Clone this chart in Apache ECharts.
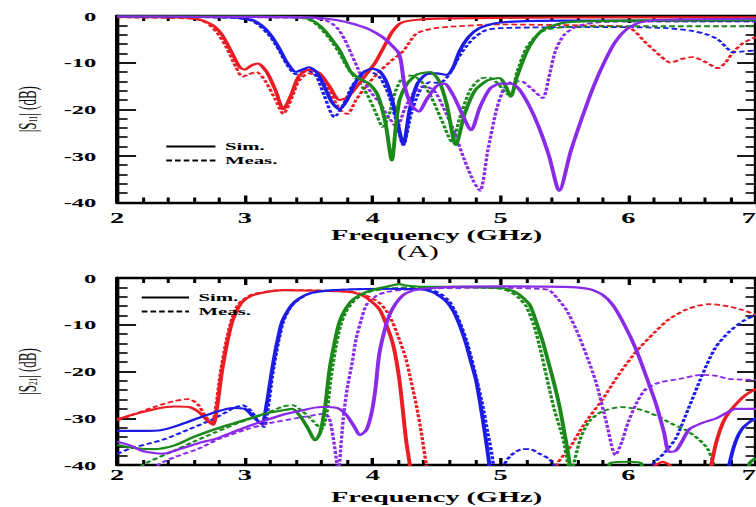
<!DOCTYPE html>
<html>
<head>
<meta charset="utf-8">
<script src="https://cdn.jsdelivr.net/npm/echarts@6/dist/echarts.min.js"></script>
<style>
html,body{margin:0;padding:0;background:#fff;overflow:hidden;width:756px;height:507px;}
#c{width:400px;height:507px;transform:scaleX(1.89);transform-origin:0 0;}
</style>
</head>
<body>
<div id="c"></div>
<script>
// ---- axis ticks ----
const xTicks = [2, 3, 4, 5, 6, 7];          // Frequency (GHz)
const yTicks = [-40, -30, -20, -10, 0];     // dB

// ---- (A) |S11| (dB) : [GHz, dB] ----
const s11RedSim = [[2,-0.2],[2.5,-0.3],[2.65,-0.8],[2.75,-2],[2.82,-4],[2.9,-8],[2.96,-11],[3.0,-11.5],[3.05,-10.6],[3.1,-10.2],[3.17,-12],[3.24,-16],[3.3,-20],[3.36,-17],[3.42,-13],[3.5,-11.5],[3.58,-12.2],[3.66,-15],[3.74,-18],[3.8,-17.5],[3.88,-15],[3.95,-12.5],[4.02,-10],[4.1,-6],[4.15,-3.5],[4.22,-1.5],[4.35,-0.8],[4.6,-0.5],[5,-0.4],[6,-0.3],[7,-0.3]];
const s11RedMeas = [[2,-0.3],[2.6,-0.6],[2.7,-1.5],[2.78,-3.5],[2.86,-7],[2.93,-11],[2.98,-13],[3.03,-12.5],[3.09,-12],[3.16,-14],[3.24,-18],[3.3,-21],[3.36,-18],[3.42,-14],[3.5,-12.3],[3.58,-13],[3.66,-16],[3.74,-20],[3.8,-21],[3.87,-18],[3.95,-15],[4.05,-12],[4.15,-9.5],[4.24,-7.5],[4.34,-3.8],[4.45,-2.8],[4.6,-2.3],[5.0,-1.8],[5.3,-1.9],[5.8,-2.1],[6.0,-2.4],[6.14,-5.8],[6.25,-8.5],[6.33,-10],[6.42,-9.2],[6.5,-8.8],[6.6,-9.8],[6.7,-11.2],[6.76,-10],[6.82,-7.8],[6.9,-5.8],[7.0,-4.5]];
const s11BlueSim = [[2,-0.1],[2.9,-0.3],[3.05,-0.8],[3.13,-2],[3.2,-4],[3.27,-7],[3.33,-10],[3.4,-12],[3.45,-11.5],[3.5,-11],[3.56,-12],[3.62,-15],[3.68,-18.5],[3.74,-20],[3.8,-18],[3.86,-14.5],[3.93,-12],[4.0,-11.3],[4.06,-12],[4.12,-15],[4.18,-21],[4.24,-27.5],[4.29,-20],[4.35,-14.5],[4.42,-12.5],[4.5,-12.3],[4.58,-12.6],[4.63,-11],[4.68,-7.5],[4.75,-4.5],[4.83,-2.7],[4.95,-1.6],[5.1,-1.2],[5.5,-1],[6,-1],[7,-1]];
const s11BlueMeas = [[2,-0.2],[2.9,-0.4],[3.05,-1],[3.13,-2.5],[3.2,-4.5],[3.27,-7.5],[3.33,-10.5],[3.4,-12.5],[3.45,-12],[3.5,-11.8],[3.56,-13],[3.62,-17],[3.7,-21.7],[3.77,-19],[3.84,-15],[3.92,-12.5],[3.98,-12],[4.05,-13],[4.12,-16.5],[4.18,-22],[4.24,-27.7],[4.3,-21],[4.37,-16],[4.45,-14.2],[4.52,-14.4],[4.6,-12.5],[4.67,-9],[4.73,-6.6],[4.8,-4.5],[4.89,-3],[5.0,-2.6],[5.5,-2.4],[6.0,-2.4],[6.3,-2.6],[6.5,-3.2],[6.62,-4],[6.7,-5],[6.77,-6.8],[6.82,-7.8],[6.9,-7.6],[7,-7.4]];
const s11GreenSim = [[2,-0.1],[3.4,-0.2],[3.5,-0.6],[3.56,-1.5],[3.62,-3],[3.68,-5],[3.74,-7.3],[3.79,-10],[3.83,-12],[3.9,-13.5],[3.97,-14.5],[4.04,-17],[4.1,-23],[4.15,-31],[4.18,-24],[4.21,-18],[4.27,-14.5],[4.35,-12.5],[4.45,-12],[4.52,-14],[4.58,-19],[4.65,-27.7],[4.72,-21],[4.8,-16],[4.9,-13.8],[4.99,-13.3],[5.04,-15],[5.08,-17.3],[5.13,-13],[5.2,-8],[5.25,-5.5],[5.33,-3],[5.45,-1.7],[5.6,-1.2],[6,-1],[7,-0.9]];
const s11GreenMeas = [[2,-0.2],[3.4,-0.3],[3.5,-0.8],[3.56,-1.8],[3.62,-3.5],[3.68,-5.5],[3.74,-8],[3.79,-10.5],[3.84,-12.5],[3.9,-14.5],[3.96,-17],[4.02,-20.5],[4.08,-23.8],[4.13,-21],[4.18,-16],[4.24,-13],[4.3,-12.8],[4.38,-14],[4.46,-17.5],[4.55,-23],[4.62,-27],[4.68,-22],[4.76,-16],[4.84,-13.5],[4.91,-13.2],[4.98,-14.5],[5.04,-16.5],[5.08,-17],[5.13,-12],[5.2,-7],[5.27,-4.5],[5.35,-3],[5.5,-2.4],[6,-2.2],[7,-2.2]];
const s11PurpleSim = [[2,-0.1],[3.5,-0.3],[3.7,-0.8],[3.82,-1.5],[3.95,-2.6],[4.03,-3.7],[4.1,-5],[4.16,-6.6],[4.2,-7.8],[4.22,-9.5],[4.25,-15],[4.3,-19],[4.36,-20.5],[4.42,-18],[4.5,-15],[4.56,-14.5],[4.63,-17],[4.7,-21],[4.77,-24.5],[4.84,-19.5],[4.92,-15.5],[5.0,-14.5],[5.08,-14.5],[5.14,-15.5],[5.22,-19],[5.3,-23.8],[5.38,-30],[5.46,-37.5],[5.55,-29],[5.64,-21.7],[5.73,-15],[5.82,-9.5],[5.9,-5.5],[5.98,-3],[6.08,-1.5],[6.2,-0.9],[6.5,-0.7],[7,-0.6]];
const s11PurpleMeas = [[2,-0.2],[3.5,-0.4],[3.64,-1],[3.72,-2.5],[3.78,-5],[3.83,-8],[3.88,-11],[3.93,-14],[3.99,-16.5],[4.05,-18.5],[4.12,-21.5],[4.19,-23.8],[4.25,-20],[4.32,-16.5],[4.4,-15],[4.48,-16],[4.56,-20],[4.64,-25],[4.72,-31],[4.79,-35.5],[4.84,-37.5],[4.9,-29],[4.97,-20],[5.03,-15.5],[5.1,-14],[5.16,-14],[5.24,-15.5],[5.33,-17.6],[5.38,-13],[5.43,-7.5],[5.5,-4],[5.6,-2.2],[5.75,-1.4],[6,-1.2],[7,-1.2]];

// ---- (B) |S21| (dB) : [GHz, dB] (values below -40 fall outside the frame) ----
const s21RedSim = [[2,-30.2],[2.15,-29],[2.3,-28],[2.45,-27.5],[2.56,-27.6],[2.63,-28.5],[2.7,-30.3],[2.75,-31.4],[2.78,-28],[2.82,-20],[2.86,-14],[2.9,-9.4],[2.94,-6.8],[2.98,-5.1],[3.05,-3.8],[3.15,-3.1],[3.3,-2.6],[3.5,-2.7],[3.7,-2.8],[3.85,-3.1],[3.95,-4.2],[4.05,-6.6],[4.1,-9.5],[4.16,-14.3],[4.21,-22],[4.26,-34.4],[4.29,-40],[4.31,-46],[6.15,-46],[6.2,-40.5],[6.27,-39.3],[6.34,-40.5],[6.4,-46],[6.6,-46],[6.65,-40],[6.69,-35],[6.74,-31],[6.79,-28.7],[6.86,-26.5],[6.92,-25],[7.0,-23.7]];
const s21RedMeas = [[2,-30.5],[2.15,-29],[2.3,-27.5],[2.45,-26.3],[2.56,-25.9],[2.63,-27],[2.69,-29.5],[2.74,-31.2],[2.77,-28],[2.81,-20],[2.85,-14],[2.89,-9.4],[2.93,-6.5],[2.97,-5],[3.05,-3.6],[3.15,-3.0],[3.3,-2.6],[3.5,-2.6],[3.7,-2.8],[3.85,-3],[3.97,-4],[4.06,-5.5],[4.13,-8],[4.2,-12.5],[4.26,-17.3],[4.3,-22],[4.34,-27],[4.38,-33],[4.42,-40],[4.46,-46],[5.4,-46],[5.44,-40],[5.55,-36],[5.65,-31.5],[5.8,-25.9],[5.93,-20.5],[6.06,-15.8],[6.2,-11.8],[6.32,-8.8],[6.45,-6.8],[6.55,-5.9],[6.63,-5.6],[6.75,-5.9],[6.89,-6.8],[7.0,-7.9]];
const s21BlueSim = [[2,-32.7],[2.2,-32.7],[2.35,-32.5],[2.5,-31.3],[2.65,-29.8],[2.77,-28.7],[2.9,-27.8],[3.0,-28],[3.06,-29.5],[3.13,-31.2],[3.17,-27],[3.21,-20],[3.25,-14],[3.29,-9.4],[3.34,-6.8],[3.39,-5.1],[3.47,-3.7],[3.55,-3],[3.7,-2.6],[3.85,-2.4],[4.1,-2.3],[4.37,-2.4],[4.47,-3],[4.53,-4],[4.58,-5.1],[4.63,-7],[4.68,-10],[4.73,-14],[4.77,-18],[4.81,-22],[4.86,-30],[4.91,-39.4],[4.93,-46],[6.75,-46],[6.79,-40],[6.84,-35],[6.89,-32.3],[6.95,-30.8],[7.0,-30]];
const s21BlueMeas = [[2,-37.6],[2.1,-36.5],[2.25,-35.4],[2.38,-34.4],[2.55,-32.5],[2.7,-30.8],[2.8,-29.5],[2.9,-28],[2.98,-27.2],[3.05,-28.5],[3.1,-30.5],[3.15,-31.9],[3.18,-28],[3.22,-20],[3.26,-14],[3.3,-9.4],[3.35,-6.5],[3.4,-5],[3.48,-3.6],[3.56,-3],[3.7,-2.6],[3.9,-2.4],[4.2,-2.3],[4.45,-2.5],[4.53,-3.4],[4.6,-5],[4.66,-8],[4.73,-13],[4.79,-19],[4.86,-27.2],[4.9,-33],[4.94,-39],[4.96,-46],[5.0,-46],[5.03,-40],[5.08,-38],[5.17,-36.6],[5.23,-36.6],[5.3,-37.5],[5.38,-38.7],[5.42,-40],[5.45,-46],[6.15,-46],[6.19,-40],[6.28,-37.5],[6.37,-34.4],[6.47,-28],[6.58,-20.7],[6.68,-15],[6.79,-11.5],[6.9,-9.2],[7.0,-7.9]];
const s21GreenSim = [[2,-35.7],[2.15,-36.4],[2.3,-36.6],[2.45,-35.8],[2.6,-34],[2.77,-32.3],[2.95,-30.8],[3.15,-29.1],[3.3,-28.3],[3.37,-28],[3.43,-29.5],[3.49,-32],[3.55,-34.7],[3.59,-33],[3.63,-27],[3.66,-20],[3.7,-14],[3.74,-9.4],[3.79,-6.5],[3.85,-4.5],[3.95,-3],[4.05,-2.2],[4.15,-1.6],[4.21,-1.3],[4.26,-1.6],[4.4,-1.9],[4.7,-1.9],[5.0,-2.1],[5.1,-2.8],[5.15,-3.6],[5.23,-5.8],[5.28,-9.4],[5.33,-13.5],[5.36,-16.5],[5.41,-21.5],[5.46,-27.2],[5.5,-33],[5.54,-39.4],[5.56,-46],[5.8,-46],[5.86,-39.6],[6.0,-39.3],[6.1,-39.6],[6.15,-46],[6.9,-46],[6.95,-39.6],[7.0,-38.5]];
const s21GreenMeas = [[2.1,-43],[2.2,-40],[2.4,-37.5],[2.6,-35],[2.77,-33],[2.95,-31],[3.15,-29.1],[3.3,-27.5],[3.37,-27.2],[3.45,-28.5],[3.53,-30.5],[3.6,-32.3],[3.64,-29],[3.67,-22],[3.71,-15],[3.75,-10],[3.8,-6.8],[3.87,-4.5],[3.97,-3],[4.1,-2.3],[4.3,-2],[4.7,-2],[5.0,-2.3],[5.08,-3],[5.14,-4.2],[5.2,-6],[5.26,-10],[5.31,-15],[5.36,-21],[5.42,-28],[5.49,-34.4],[5.53,-40],[5.55,-42],[5.58,-39],[5.63,-34],[5.7,-30.5],[5.8,-28.5],[5.95,-27.6],[6.1,-28.2],[6.24,-29.7],[6.35,-31.3],[6.45,-32.5],[6.55,-34.5],[6.62,-36.5],[6.67,-40],[6.7,-46],[7,-46]];
const s21PurpleSim = [[2,-35],[2.1,-35.8],[2.2,-37],[2.35,-37.6],[2.5,-36.5],[2.65,-35.2],[2.77,-34.4],[2.95,-32.5],[3.1,-31],[3.29,-29.3],[3.45,-28.3],[3.59,-27.6],[3.66,-27.6],[3.74,-28],[3.8,-29.5],[3.86,-32],[3.9,-33.6],[3.95,-32.5],[3.99,-29],[4.02,-24],[4.05,-16.5],[4.09,-11.5],[4.13,-8],[4.18,-5.5],[4.24,-3.6],[4.3,-2.8],[4.37,-2.4],[4.5,-2.1],[4.63,-1.9],[5.0,-1.8],[5.5,-1.9],[5.7,-2.4],[5.8,-3.6],[5.88,-5.8],[5.97,-10],[6.06,-15.2],[6.14,-21],[6.22,-27.2],[6.28,-33],[6.32,-37.2],[6.37,-37],[6.42,-35],[6.48,-32.3],[6.58,-31],[6.69,-30],[6.76,-29],[6.84,-28],[7.0,-28]];
const s21PurpleMeas = [[2.25,-43],[2.32,-40],[2.45,-38.3],[2.63,-36.6],[2.8,-34.4],[3.02,-32.3],[3.2,-31],[3.4,-30],[3.55,-29.3],[3.62,-29],[3.66,-30],[3.69,-34],[3.72,-40],[3.73,-46],[3.74,-40],[3.77,-30],[3.8,-23.7],[3.84,-18],[3.87,-13],[3.91,-9],[3.95,-5.8],[4.03,-3.8],[4.11,-3],[4.25,-2.5],[4.5,-2.2],[5.0,-2.1],[5.3,-2.3],[5.38,-2.6],[5.45,-4.5],[5.52,-7],[5.6,-11.5],[5.68,-17],[5.75,-22.5],[5.83,-31],[5.9,-37.9],[5.95,-35],[6.0,-30.8],[6.07,-26.5],[6.14,-23.7],[6.25,-22.3],[6.4,-21.6],[6.58,-20.7],[6.7,-21],[6.79,-21.6],[7.0,-21.8]];

// ---- styling ----
const SERIF = '"Liberation Serif","Times New Roman",serif';
const COL = {red:'#ec1c24', blue:'#1c1ce6', green:'#1b8a1b', purple:'#8a2be8'};
const DASH = [3, 1.6];

function curve(name, data, color, dashed, g) {
  return {
    type: 'line', name: name, data: data,
    xAxisIndex: g * 2, yAxisIndex: g * 2,
    symbol: 'none', showSymbol: false, smooth: 0.25, clip: true, silent: true,
    lineStyle: {color: color, width: dashed ? 1.8 : 2.1, type: dashed ? DASH : 'solid'},
    z: dashed ? 2 : 3
  };
}

function xAx(g, pos, labelMargin) {
  const main = pos === 'bottom';
  return {
    type: 'value', gridIndex: g, position: pos, min: xTicks[0], max: xTicks[xTicks.length - 1], interval: 1,
    axisLine: {show: true, onZero: false, lineStyle: {color: '#000', width: 2.3}},
    axisTick: {show: true, inside: true, length: 7, lineStyle: {color: '#000', width: 1.8}},
    minorTick: {show: true, splitNumber: 5, length: 5, lineStyle: {color: '#000', width: 1.6}},
    splitLine: {show: false}, minorSplitLine: {show: false},
    axisLabel: {show: main, margin: labelMargin, color: '#000', fontFamily: SERIF, fontWeight: 'bold', fontSize: 15,
      showMinLabel: true, showMaxLabel: true, alignMaxLabel: 'right'},
    name: main ? 'Frequency (GHz)' : '', nameLocation: 'middle', nameGap: 25,
    nameTextStyle: {color: '#000', fontFamily: SERIF, fontWeight: 'bold', fontSize: 15}
  };
}
function yAx(g, pos, sub) {
  const main = pos === 'left';
  return {
    type: 'value', gridIndex: g, position: pos, min: yTicks[0], max: yTicks[yTicks.length - 1], interval: 10,
    axisLine: {show: true, onZero: false, lineStyle: {color: '#000', width: 2.3}},
    axisTick: {show: true, inside: true, length: 10, lineStyle: {color: '#000', width: 1.8}},
    minorTick: {show: true, splitNumber: 5, length: 5.5, lineStyle: {color: '#000', width: 1.6}},
    splitLine: {show: false}, minorSplitLine: {show: false},
    axisLabel: {show: main, margin: 11, color: '#000', fontFamily: SERIF, fontWeight: 'bold', fontSize: 13},
    name: main ? '|S{s|' + sub + '}| (dB)' : '', nameLocation: 'middle', nameGap: 41,
    nameTextStyle: {color: '#111', fontFamily: SERIF, fontSize: 13,
      rich: {s: {fontFamily: SERIF, fontSize: 7, color: '#111', verticalAlign: 'bottom', padding: [6, 0, 0, 0]}}}
  };
}

const series = [
  curve('S11 red meas', s11RedMeas, COL.red, true, 0),
  curve('S11 blue meas', s11BlueMeas, COL.blue, true, 0),
  curve('S11 green meas', s11GreenMeas, COL.green, true, 0),
  curve('S11 purple meas', s11PurpleMeas, COL.purple, true, 0),
  curve('S11 red sim', s11RedSim, COL.red, false, 0),
  curve('S11 blue sim', s11BlueSim, COL.blue, false, 0),
  curve('S11 green sim', s11GreenSim, COL.green, false, 0),
  curve('S11 purple sim', s11PurpleSim, COL.purple, false, 0),
  curve('S21 red meas', s21RedMeas, COL.red, true, 1),
  curve('S21 blue meas', s21BlueMeas, COL.blue, true, 1),
  curve('S21 green meas', s21GreenMeas, COL.green, true, 1),
  curve('S21 purple meas', s21PurpleMeas, COL.purple, true, 1),
  curve('S21 red sim', s21RedSim, COL.red, false, 1),
  curve('S21 blue sim', s21BlueSim, COL.blue, false, 1),
  curve('S21 green sim', s21GreenSim, COL.green, false, 1),
  curve('S21 purple sim', s21PurpleSim, COL.purple, false, 1),
  {type: 'line', name: 'Sim.', data: [], xAxisIndex: 0, yAxisIndex: 0, symbol: 'none', itemStyle: {color: 'rgba(0,0,0,0)'}, lineStyle: {color: '#000', width: 2, type: 'solid'}},
  {type: 'line', name: 'Meas.', data: [], xAxisIndex: 0, yAxisIndex: 0, symbol: 'none', itemStyle: {color: 'rgba(0,0,0,0)'}, lineStyle: {color: '#000', width: 1.8, type: DASH}}
];

const legendText = {color: '#000', fontFamily: SERIF, fontWeight: 'bold', fontSize: 11};
const legendBase = {data: ['Sim.', 'Meas.'], orient: 'vertical', padding: 0, itemHeight: 12, itemGap: 3, selectedMode: false,
  textStyle: legendText, itemStyle: {opacity: 0, color: 'rgba(0,0,0,0)', borderWidth: 0}};
const option = {
  animation: false,
  backgroundColor: '#fff',
  grid: [
    {left: 62, top: 16, width: 338, height: 186.5, containLabel: false, outerBoundsMode: 'none'},
    {left: 62, top: 278, width: 338, height: 187, containLabel: false, outerBoundsMode: 'none'}
  ],
  xAxis: [xAx(0, 'bottom', 8), xAx(0, 'top', 8), xAx(1, 'bottom', 3), xAx(1, 'top', 3)],
  yAxis: [yAx(0, 'left', '11'), yAx(0, 'right', '11'), yAx(1, 'left', '21'), yAx(1, 'right', '21')],
  legend: [
    Object.assign({}, legendBase, {left: 87, top: 141, itemWidth: 26}),
    Object.assign({}, legendBase, {left: 74, top: 292, itemWidth: 25})
  ],
  graphic: [
    {type: 'text', left: 210, top: 243, style: {text: '(A)', fill: '#000', font: '16px ' + SERIF}}
  ],
  series: series
};

const chart = echarts.init(document.getElementById('c'), null, {renderer: 'svg', width: 400, height: 507});
chart.setOption(option);
</script>
</body>
</html>
